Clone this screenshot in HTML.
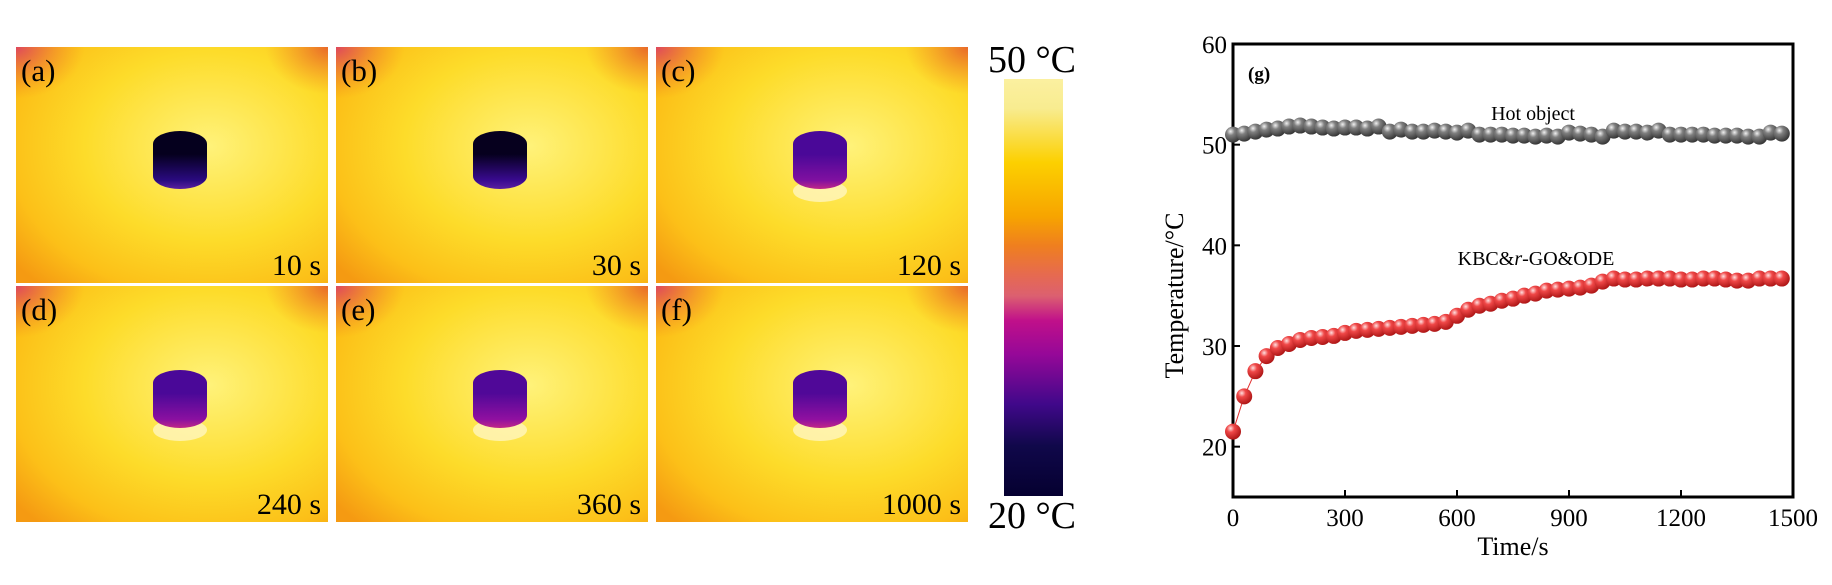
<!DOCTYPE html>
<html><head><meta charset="utf-8"><style>
html,body{margin:0;padding:0;background:#fff;}
svg{display:block;font-family:"Liberation Serif",serif;}
</style></head><body>
<svg id="fig" width="1832" height="585" viewBox="0 0 1832 585">
<defs>
  <radialGradient id="bg" cx="0.62" cy="0.42" r="0.8">
    <stop offset="0" stop-color="#fff27a"/>
    <stop offset="0.5" stop-color="#fddc2a"/>
    <stop offset="0.8" stop-color="#fcc018"/>
    <stop offset="1" stop-color="#f59a12"/>
  </radialGradient>
  <radialGradient id="corner" cx="0" cy="0" r="0.22">
    <stop offset="0" stop-color="#d83070" stop-opacity="0.8"/>
    <stop offset="1" stop-color="#f07020" stop-opacity="0"/>
  </radialGradient>
  <radialGradient id="corner2" cx="1" cy="0" r="0.2">
    <stop offset="0" stop-color="#e04030" stop-opacity="0.7"/>
    <stop offset="1" stop-color="#f07020" stop-opacity="0"/>
  </radialGradient>
  <linearGradient id="cb" x1="0" y1="0" x2="0" y2="1">
    <stop offset="0" stop-color="#fbf0a0"/>
    <stop offset="0.07" stop-color="#f8ec90"/>
    <stop offset="0.2" stop-color="#fcd000"/>
    <stop offset="0.33" stop-color="#f7a400"/>
    <stop offset="0.4" stop-color="#ef7f1f"/>
    <stop offset="0.47" stop-color="#e66a50"/>
    <stop offset="0.52" stop-color="#dc6070"/>
    <stop offset="0.58" stop-color="#c0108a"/>
    <stop offset="0.66" stop-color="#960898"/>
    <stop offset="0.78" stop-color="#40088a"/>
    <stop offset="0.88" stop-color="#10084a"/>
    <stop offset="1" stop-color="#050030"/>
  </linearGradient>
  <radialGradient id="ballRed" cx="0.35" cy="0.3" r="0.7">
    <stop offset="0" stop-color="#ffe0e0"/>
    <stop offset="0.35" stop-color="#f04848"/>
    <stop offset="1" stop-color="#b01818"/>
  </radialGradient>
  <radialGradient id="ballGray" cx="0.35" cy="0.3" r="0.7">
    <stop offset="0" stop-color="#f0f0f0"/>
    <stop offset="0.35" stop-color="#808080"/>
    <stop offset="1" stop-color="#383838"/>
  </radialGradient>
</defs>
<g id="panels"></g>
<g>
  <rect x="1004" y="79" width="59" height="417" fill="url(#cb)"/>
  <text x="1032" y="72" font-size="38" text-anchor="middle">50 °C</text>
  <text x="1032" y="528" font-size="38" text-anchor="middle">20 °C</text>
</g>
<g id="chart"></g>
</svg>
<script>
const NS='http://www.w3.org/2000/svg';
function mk(tag,attrs,parent){const e=document.createElementNS(NS,tag);for(const k in attrs)e.setAttribute(k,attrs[k]);parent.appendChild(e);return e;}

const panelLabels=['(a)','(b)','(c)','(d)','(e)','(f)'];
const panelTimes=['10 s','30 s','120 s','240 s','360 s','1000 s'];
const topColors=[['#05001e','#2a0a80'],['#06001e','#3a0a90'],['#4a0898','#8010a0'],['#4a0898','#8a10a0'],['#500898','#9010a0'],['#500898','#9010a0']];
const pg=document.getElementById('panels');
const px=[16,336,656], py=[47,286], pw=312, ph=236;
for(let i=0;i<6;i++){
  const x=px[i%3], y=py[Math.floor(i/3)];
  const g=mk('g',{},pg);
  
  
  mk('rect',{x:x,y:y,width:pw,height:ph,fill:'url(#bg)'},g);
  mk('rect',{x:x,y:y,width:pw,height:ph,fill:'url(#corner)'},g);
  mk('rect',{x:x,y:y,width:pw,height:ph,fill:'url(#corner2)'},g);
  const cx=x+164, cy=y+84;
  if(i>=2) mk('ellipse',{cx:cx,cy:cy+60,rx:27,ry:11,fill:'#fff4b8',opacity:0.85},g);
  const gid='cyl'+i;
  const lg=mk('linearGradient',{id:gid,x1:0,y1:0,x2:0,y2:1},g);
  mk('stop',{offset:0,'stop-color':topColors[i][0]},lg);
  mk('stop',{offset:0.4,'stop-color':topColors[i][0]},lg);
  mk('stop',{offset:0.85,'stop-color':topColors[i][1]},lg);
  mk('stop',{offset:1,'stop-color':i>=2?'#c02888':'#5a20a0'},lg);
  mk('rect',{x:cx-27,y:cy,width:54,height:58,rx:27,ry:13,fill:'url(#'+gid+')'},g);
  const t1=mk('text',{x:x+5,y:y+34,'font-size':31},g);t1.textContent=panelLabels[i];
  
  
  const t2=mk('text',{x:x+pw-7,y:y+ph-8,'font-size':30,'text-anchor':'end'},g);t2.textContent=panelTimes[i];
  
  
}

const times=[0,30,60,90,120,150,180,210,240,270,300,330,360,390,420,450,480,510,540,570,600,630,660,690,720,750,780,810,840,870,900,930,960,990,1020,1050,1080,1110,1140,1170,1200,1230,1260,1290,1320,1350,1380,1410,1440,1470];
const hotObject=[51.0,51.1,51.3,51.5,51.6,51.8,51.9,51.8,51.7,51.6,51.7,51.7,51.6,51.8,51.3,51.5,51.3,51.3,51.4,51.3,51.2,51.4,51.0,51.0,51.0,50.9,50.9,50.8,50.9,50.8,51.2,51.1,51.0,50.8,51.4,51.3,51.3,51.2,51.4,51.0,51.0,51.0,51.0,50.9,50.9,50.9,50.8,50.8,51.2,51.1];
const kbc=[21.5,25.0,27.5,29.0,29.8,30.2,30.6,30.8,30.9,31.0,31.3,31.5,31.6,31.7,31.8,31.9,32.0,32.1,32.2,32.4,33.0,33.6,34.0,34.2,34.5,34.7,35.0,35.2,35.5,35.6,35.7,35.8,36.0,36.4,36.7,36.6,36.6,36.7,36.7,36.7,36.6,36.6,36.7,36.7,36.6,36.5,36.5,36.7,36.7,36.7];
const xTicks=[0,300,600,900,1200,1500];
const yTicks=[20,30,40,50,60];

const L=1233,R=1793,T=44,B=497, xmin=0,xmax=1500,ymin=15,ymax=60;
const X=v=>L+(v-xmin)/(xmax-xmin)*(R-L);
const Y=v=>B-(v-ymin)/(ymax-ymin)*(B-T);
const c=document.getElementById('chart');
const frame=mk('rect',{x:L,y:T,width:R-L,height:B-T,fill:'none',stroke:'#000','stroke-width':3},c);


xTicks.forEach(v=>{
  mk('line',{x1:X(v),x2:X(v),y1:B,y2:B-7,stroke:'#000','stroke-width':2},c);
  const t=mk('text',{x:X(v),y:B+29,'font-size':25,'text-anchor':'middle'},c);t.textContent=v;
  
  
});
yTicks.forEach(v=>{
  mk('line',{x1:L,x2:L+7,y1:Y(v),y2:Y(v),stroke:'#000','stroke-width':2},c);
  const t=mk('text',{x:L-6,y:Y(v)+9,'font-size':25,'text-anchor':'end'},c);t.textContent=v;
  
  
});
const xt=mk('text',{x:(L+R)/2,y:555,'font-size':26,'text-anchor':'middle'},c);xt.textContent='Time/s';


const yt=mk('text',{x:0,y:0,'font-size':26,'text-anchor':'middle',transform:'translate(1183,'+((T+B)/2+25)+') rotate(-90)'},c);yt.textContent='Temperature/°C';


const gl=mk('text',{x:1248,y:80,'font-size':19,'font-weight':'bold'},c);gl.textContent='(g)';


const hl=mk('text',{x:1533,y:120,'font-size':20,'text-anchor':'middle'},c);hl.textContent='Hot object';


const kl=mk('text',{x:1536,y:265,'font-size':20,'text-anchor':'middle'},c);
kl.innerHTML='KBC&amp;<tspan font-style="italic">r</tspan>-GO&amp;ODE';



function series(vals,color,grad,name){
  const g=mk('g',{},c);
  
  
  mk('polyline',{points:times.map((t,i)=>X(t)+','+Y(vals[i])).join(' '),fill:'none',stroke:color,'stroke-width':1},g);
  times.forEach((t,i)=>{
    const p=mk('circle',{cx:X(t),cy:Y(vals[i]),r:8,fill:'url(#'+grad+')'},g);
    
    
  });
}
series(hotObject,'#555','ballGray','hot-object-series');
series(kbc,'#e03030','ballRed','kbc-series');
</script>
</body></html>
